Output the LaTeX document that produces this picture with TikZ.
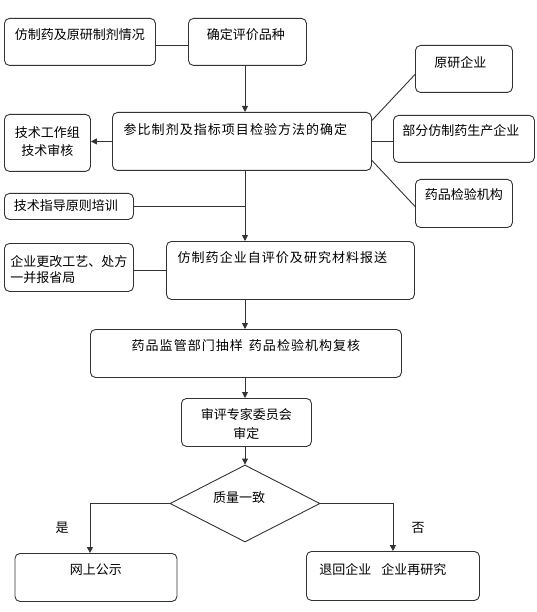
\documentclass[tikz,border=0pt]{standalone}
\usepackage{fontspec}
\newfontfamily\cjk{Noto Sans CJK SC}
\newfontfamily\cjkw[LetterSpace=8]{Noto Sans CJK SC}
\usetikzlibrary{arrows.meta,shapes.geometric}
\begin{document}
\begin{tikzpicture}[x=1pt,y=-1pt,
  box/.style={draw=black!80, line width=0.9pt, rounded corners=5pt, inner sep=0pt, anchor=north west, font=\cjk\fontsize{13}{16}\selectfont},
  wide/.style={font=\cjkw\fontsize{13}{16}\selectfont},
  lbl/.style={font=\cjk\fontsize{13}{16}\selectfont, inner sep=0pt},
  ln/.style={draw=black!80, line width=0.9pt},
  arr/.style={-{Triangle[length=6pt,width=6pt]}}]
\useasboundingbox (0,0) rectangle (537,612);

\node[box, minimum width=151pt, minimum height=47pt, text height=20.9pt, text depth=26.1pt] (A) at (4,18) {仿制药及原研制剂情况};
\node[box, minimum width=118pt, minimum height=47pt, text height=20.9pt, text depth=26.1pt] (B) at (188,18) {确定评价品种\hspace*{3pt}};
\node[box, wide, minimum width=259pt, minimum height=58pt, text height=21.9pt, text depth=36.1pt] (C) at (112,112) {参比制剂及指标项目检验方法的确定\hspace*{13pt}};
\node[box, font=\cjk\fontsize{13}{18}\selectfont, minimum width=86pt, minimum height=57pt, text height=22.9pt, text depth=34.1pt] (D) at (4,114) {\begin{tabular}[t]{@{}c@{}}技术工作组\\技术审核\end{tabular}};
\node[box, minimum width=97pt, minimum height=47pt, text height=21.9pt, text depth=25.1pt] (E) at (415,45) {原研企业\hspace*{7pt}};
\node[box, minimum width=141pt, minimum height=47pt, text height=19.9pt, text depth=27.1pt] (F) at (393,115) {部分仿制药生产企业\hspace*{6pt}};
\node[box, minimum width=97pt, minimum height=48pt, text height=20.4pt, text depth=27.6pt] (G) at (415,179) {药品检验机构};
\node[box, minimum width=129pt, minimum height=26pt, text height=16.9pt, text depth=9.1pt] (H) at (4,193) {技术指导原则培训\hspace*{6pt}};
\node[box, wide, minimum width=248pt, minimum height=58pt, text height=21.4pt, text depth=36.6pt] (I) at (166,241) {仿制药企业自评价及研究材料报送\hspace*{16pt}};
\node[box, font=\cjk\fontsize{13}{15.5}\selectfont, minimum width=129pt, minimum height=48pt, text height=23.5pt, text depth=24.5pt] (J) at (4,243) {\begin{tabular}[t]{@{}l@{}}企业更改工艺、处方\\一并报省局\end{tabular}};
\node[box, wide, minimum width=311pt, minimum height=48pt, text height=20.9pt, text depth=27.1pt] (K) at (90,329) {药品监管部门抽样\hspace{6pt}药品检验机构复核};
\node[box, font=\cjk\fontsize{13}{19}\selectfont, minimum width=130pt, minimum height=48pt, text height=20.9pt, text depth=27.1pt] (L) at (181,398) {\begin{tabular}[t]{@{}c@{}}审评专家委员会\\审定\end{tabular}};
\node[diamond, aspect=2, draw=black!80, line width=0.9pt, inner sep=0pt, minimum width=150pt, minimum height=77pt, text height=10pt, text depth=13pt, font=\cjk\fontsize{13}{16}\selectfont] (Q) at (245,503.5) {质量一致\hspace*{12pt}};
\node[box, minimum width=162pt, minimum height=48pt, text height=20.9pt, text depth=27.1pt] (M) at (14.5,553) {网上公示};
\node[box, minimum width=173pt, minimum height=49pt, text height=22.9pt, text depth=26.1pt] (N) at (306,551) {退回企业\hspace{10pt}企业再研究\hspace*{20pt}};
\node[lbl] (yes) at (62,528) {是};
\node[lbl] (no) at (418,528) {否};

\coordinate (sp) at (245,0);
\draw[ln] ([yshift=-3.5pt]A.east) -- ([yshift=-3.5pt]B.west);
\draw[ln,arr] (sp |- B.south) -- (sp |- C.north);
\draw[ln,arr] (C.west) -- (C.west -| D.east);
\draw[ln] ([yshift=21pt]C.east) -- ([yshift=-5.5pt]E.west);
\draw[ln] (C.east) -- (C.east -| F.west);
\draw[ln] ([yshift=-19pt]C.east) -- ([yshift=-3pt]G.west);
\draw[ln,arr] (sp |- C.south) -- (sp |- I.north);
\draw[ln] (H.east) -- (H.east -| sp);
\draw[ln] ([yshift=-3pt]J.east) -- ([yshift=-3pt]J.east -| I.west);
\draw[ln,arr] (sp |- I.south) -- (sp |- K.north);
\draw[ln,arr] (sp |- K.south) -- (sp |- L.north);
\draw[ln,arr] (sp |- L.south) -- (Q.north);
\draw[ln,arr] (Q.west) -| ([xshift=-6pt]M.north);
\draw[ln,arr] (Q.east) -| (N.north);
\end{tikzpicture}
\end{document}
